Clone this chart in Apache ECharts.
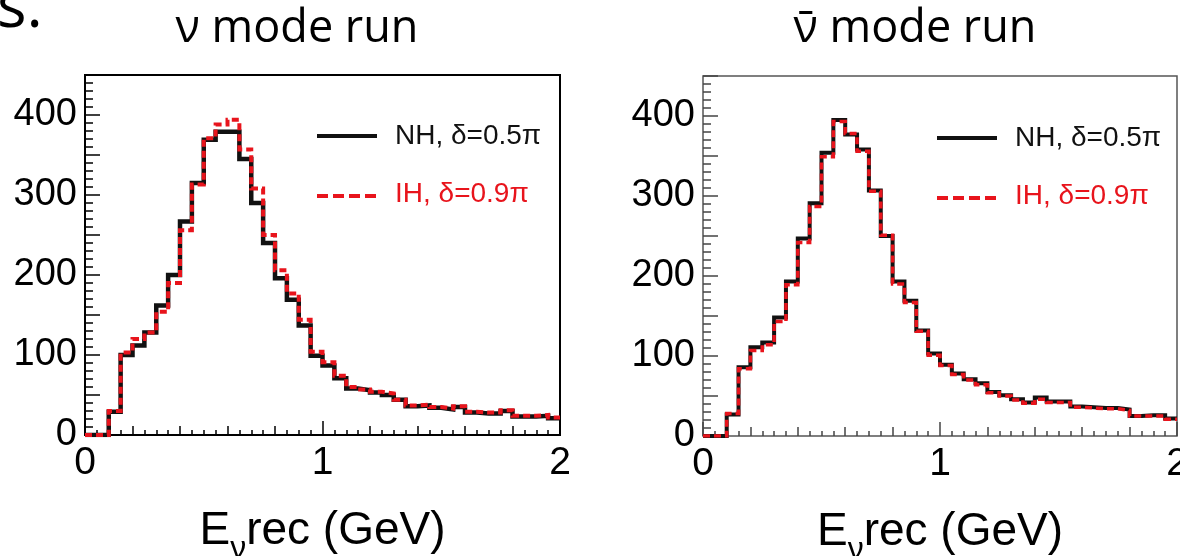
<!DOCTYPE html>
<html>
<head>
<meta charset="utf-8">
<script src="https://cdn.jsdelivr.net/npm/echarts@6/dist/echarts.min.js"></script>
<style>
  html, body { margin: 0; padding: 0; background: #fff; }
  #chart { width: 1180px; height: 556px; }
</style>
</head>
<body>
<div id="chart"></div>
<script>
// Reconstructed-energy spectra, 40 bins of 0.05 GeV from 0 to 2 GeV
const binWidth = 0.05;
const xMin = 0, xMax = 2;
const yMin = 0, yMax = 450;

// neutrino-mode run
const nuNH = [0, 0, 29, 100, 112, 128, 162, 200, 267, 315, 369, 379, 379, 345, 290, 240, 196, 169, 137, 99,
              87, 71, 58, 56, 53, 50, 44, 36, 37, 34, 32, 35, 28, 27, 27, 30, 23, 23, 24, 21];
const nuIH = [0, 0, 30, 103, 120, 128, 154, 190, 256, 313, 371, 388, 394, 357, 308, 250, 206, 177, 144, 104,
              91, 74, 60, 57, 54, 52, 44, 37, 38, 35, 33, 36, 29, 28, 28, 31, 24, 24, 25, 22];

// antineutrino-mode run
const nubarNH = [0, 0, 27, 86, 111, 117, 148, 193, 247, 291, 354, 395, 377, 358, 307, 250, 193, 169, 132, 103,
                 89, 78, 71, 66, 55, 51, 46, 42, 48, 43, 43, 37, 36, 35, 35, 33, 25, 26, 26, 22];
const nubarIH = [0, 0, 28, 84, 107, 114, 143, 189, 242, 287, 349, 393, 378, 356, 306, 251, 190, 167, 131, 101,
                 88, 77, 70, 64, 54, 50, 45, 41, 46, 42, 42, 36, 35, 34, 34, 32, 25, 25, 25, 21];

const titles = ['ν mode run', 'ν̄ mode run'];
const legendNames = ['NH, δ=0.5π', 'IH, δ=0.9π'];
const xLabels = [0, 1, 2];
const yLabels = [0, 100, 200, 300, 400];

const RED = '#e8141c';
const BLACK = '#111';
const AXIS_FONT = '"Liberation Sans", Arial, sans-serif';
const TITLE_FONT = '"Open Sans", "Noto Sans", sans-serif';

// bin contents -> step points at left bin edges, closing point at the upper edge
function histPoints(vals) {
  const pts = vals.map((v, i) => [+(xMin + i * binWidth).toFixed(2), v]);
  pts.push([xMax, vals[vals.length - 1]]);
  return pts;
}

const grids = [
  { left: 85, top: 75, width: 475, height: 360, show: true, borderColor: '#000', borderWidth: 2,
    backgroundColor: 'transparent', containLabel: false, outerBoundsMode: 'none' },
  { left: 703, top: 76, width: 474, height: 360, show: true, borderColor: '#555', borderWidth: 1.5,
    backgroundColor: 'transparent', containLabel: false, outerBoundsMode: 'none' }
];

const xAxes = [];
const yAxes = [];
grids.forEach((g, gi) => {
  const tickColor = gi === 0 ? '#000' : '#444';
  // fine ticks every 0.05, medium every 0.2
  xAxes.push({
    type: 'value', gridIndex: gi, position: 'bottom', min: xMin, max: xMax, interval: 0.2,
    axisLine: { show: false }, splitLine: { show: false },
    axisTick: { show: true, inside: true, length: 9, lineStyle: { color: tickColor, width: 1.5 } },
    minorTick: { show: true, splitNumber: 4, length: 5, lineStyle: { color: tickColor, width: 1.5 } },
    axisLabel: { show: false }
  });
  // labelled ticks every 1 GeV, with the axis title
  xAxes.push({
    type: 'value', gridIndex: gi, position: 'bottom', min: xMin, max: xMax, interval: 1,
    axisLine: { show: false }, splitLine: { show: false },
    axisTick: { show: true, inside: true, length: 14, lineStyle: { color: tickColor, width: 1.5 } },
    axisLabel: {
      show: true, margin: 9, color: '#000', fontFamily: AXIS_FONT, fontSize: 39,
      formatter: v => (xLabels.indexOf(Math.round(v)) >= 0 ? String(Math.round(v)) : '')
    },
    name: '{a|E}{b|ν}{a|rec (GeV)}',
    nameLocation: 'middle', nameGap: 62,
    nameTextStyle: {
      rich: {
        a: { fontFamily: AXIS_FONT, fontSize: 46, color: '#000' },
        b: { fontFamily: AXIS_FONT, fontSize: 32, color: '#000', padding: [36, 0, 0, 0] }
      }
    }
  });
  yAxes.push({
    type: 'value', gridIndex: gi, position: 'left', min: yMin, max: yMax, interval: 50,
    axisLine: { show: false }, splitLine: { show: false },
    axisTick: { show: true, inside: true, length: 15, lineStyle: { color: tickColor, width: 1.5 } },
    minorTick: { show: true, splitNumber: 5, length: 8, lineStyle: { color: tickColor, width: 1.5 } },
    axisLabel: {
      show: true, margin: 8, color: '#000', fontFamily: AXIS_FONT, fontSize: 38,
      formatter: v => (yLabels.indexOf(v) >= 0 ? String(v) : '')
    }
  });
});

function histSeries(vals, gi, color, width, dashed) {
  return {
    type: 'line', xAxisIndex: gi * 2, yAxisIndex: gi,
    data: histPoints(vals), step: 'end', showSymbol: false, symbol: 'none',
    silent: true, animation: false,
    lineStyle: { color: color, width: width, type: dashed ? [7, 4] : 'solid', cap: 'butt', join: 'miter' },
    z: dashed ? 3 : 2
  };
}

const series = [
  histSeries(nuNH, 0, BLACK, 4.5, false),
  histSeries(nuIH, 0, RED, 4, true),
  histSeries(nubarNH, 1, BLACK, 4, false),
  histSeries(nubarIH, 1, RED, 3.5, true)
];

// legend entries: a sample line and its label in each panel
function legendGroup(x0, y0, dy) {
  return [
    { type: 'line', shape: { x1: x0, y1: y0, x2: x0 + 60, y2: y0 }, style: { stroke: BLACK, lineWidth: 4 } },
    { type: 'text', x: x0 + 78, y: y0, style: { text: legendNames[0], fill: BLACK, font: '28px ' + AXIS_FONT, verticalAlign: 'middle' } },
    { type: 'line', shape: { x1: x0, y1: y0 + dy, x2: x0 + 60, y2: y0 + dy }, style: { stroke: RED, lineWidth: 4, lineDash: [11, 5] } },
    { type: 'text', x: x0 + 78, y: y0 + dy - 2, style: { text: legendNames[1], fill: RED, font: '28px ' + AXIS_FONT, verticalAlign: 'middle' } }
  ];
}

const option = {
  backgroundColor: '#fff',
  animation: false,
  title: [
    { text: titles[0], left: 292, top: 2, textAlign: 'center', textStyle: { fontFamily: TITLE_FONT, fontSize: 45, fontWeight: 'normal', color: '#000' } },
    { text: titles[1], left: 910, top: 2, textAlign: 'center', textStyle: { fontFamily: TITLE_FONT, fontSize: 45, fontWeight: 'normal', color: '#000' } }
  ],
  grid: grids,
  xAxis: xAxes,
  yAxis: yAxes,
  series: series,
  graphic: [
    { type: 'text', x: -3, y: -22, style: { text: 's.', fill: '#000', font: '62px ' + TITLE_FONT, verticalAlign: 'top' } }
  ].concat(legendGroup(317, 136, 60), legendGroup(937, 138, 60))
};

const chart = echarts.init(document.getElementById('chart'), null, { renderer: 'canvas' });
chart.setOption(option);
</script>
</body>
</html>
